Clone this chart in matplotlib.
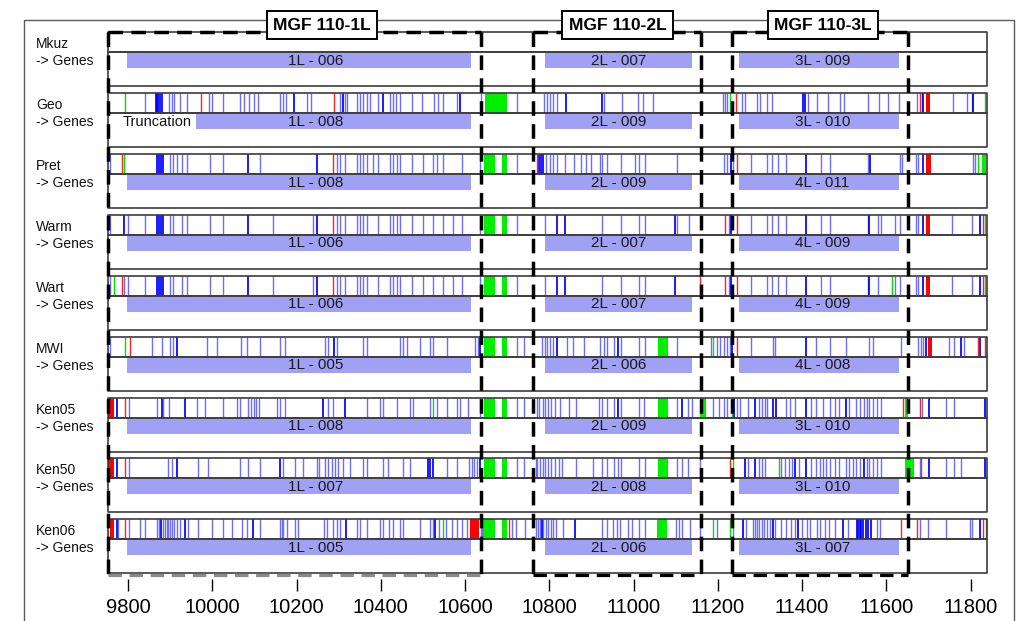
import matplotlib
matplotlib.use("Agg")
import matplotlib.pyplot as plt

plt.rcParams['font.family'] = ['Liberation Sans', 'DejaVu Sans']

# genome window and strains
track_start = 9752
track_end = 11840
strains = ["Mkuz", "Geo", "Pret", "Warm", "Wart", "MWI", "Ken05", "Ken50", "Ken06"]

gene_names = [
    ["1L - 006", "2L - 007", "3L - 009"],
    ["1L - 008", "2L - 009", "3L - 010"],
    ["1L - 008", "2L - 009", "4L - 011"],
    ["1L - 006", "2L - 007", "4L - 009"],
    ["1L - 006", "2L - 007", "4L - 009"],
    ["1L - 005", "2L - 006", "4L - 008"],
    ["1L - 008", "2L - 009", "3L - 010"],
    ["1L - 007", "2L - 008", "3L - 010"],
    ["1L - 005", "2L - 006", "3L - 007"],
]
gene_start = [9798, 10790, 11250]
gene_end = [10613, 11139, 11630]
geo_gene1_start = 9961
gene_label_x = [10246, 10965, 11448]

# MGF 110 regions (dashed boxes)
region_names = ["MGF 110-1L", "MGF 110-2L", "MGF 110-3L"]
region_start = [9752, 10761, 11233]
region_end = [10637, 11160, 11651]
region_label_x = [10260, 10962, 11450]

# variant positions per strain (Mkuz is the reference)
geo_blue = [9840, 9897, 9904, 9909, 9923, 9940, 9992, 9999, 10025, 10066, 10075, 10087, 10099, 10109,
            10161, 10168, 10175, 10225, 10234, 10303, 10315, 10320, 10344, 10351, 10358, 10367, 10374,
            10393, 10422, 10429, 10436, 10446, 10474, 10498, 10526, 10536, 10548, 10581, 10638, 10723,
            10787, 10795, 10802, 10809, 10818, 10930, 10973, 11011, 11022, 11046, 11212, 11217, 11222,
            11257, 11264, 11293, 11300, 11317, 11329, 11414, 11435, 11462, 11490, 11500, 11556, 11583,
            11604, 11630, 11673, 11685, 11758, 11791, 11803]
geo_dark = [9866, 9869, 9872, 9876, 9880, 10194, 10311, 10405, 10588, 10840, 10925, 11402, 11407, 11687, 11806]
geo_red = [9973, 10289, 11243, 11680]
geo_green = [9793, 11229, 11834]
geo_red_blocks = [(11694, 11704)]
geo_green_blocks = [(10647, 10700)]

pret_blue = [9757, 9900, 9907, 9916, 9928, 9940, 9995, 10025, 10113, 10296, 10303, 10315, 10344, 10351,
             10358, 10367, 10382, 10393, 10422, 10429, 10439, 10446, 10474, 10500, 10524, 10533, 10548,
             10593, 10636, 10723, 10793, 10801, 10809, 10819, 10838, 10859, 10875, 10888, 10898, 10921,
             10926, 10937, 10970, 11004, 11012, 11028, 11103, 11214, 11223, 11235, 11280, 11318, 11329,
             11343, 11362, 11446, 11467, 11556, 11632, 11637, 11670, 11675, 11806, 11810]
pret_dark = [9869, 9874, 9879, 9883, 10085, 10249, 10776, 10780, 10784, 11231, 11409, 11561, 11687]
pret_red = [9785, 10287, 10772, 11246]
pret_green = [9790, 11818]
pret_red_blocks = [(11695, 11706)]
pret_green_blocks = [(10645, 10671), (10688, 10700), (11827, 11836)]

warm_blue = [9757, 9800, 9840, 9900, 9907, 9928, 9940, 9995, 10025, 10144, 10239, 10296, 10303, 10315,
             10344, 10351, 10358, 10367, 10393, 10422, 10429, 10439, 10446, 10474, 10500, 10524, 10548,
             10571, 10593, 10636, 10724, 10789, 10926, 10970, 11012, 11028, 11104, 11131, 11227, 11280,
             11318, 11329, 11343, 11362, 11446, 11467, 11556, 11580, 11587, 11620, 11632, 11670, 11675,
             11756, 11803]
warm_dark = [9791, 9869, 9874, 9879, 9883, 10085, 10249, 10819, 10838, 11099, 11231, 11409, 11560, 11687, 11822]
warm_red = [10287, 11218, 11246, 11829]
warm_green = [11834]
warm_red_blocks = [(11695, 11704)]
warm_green_blocks = [(10645, 10671), (10688, 10700)]

wart_blue = [9757, 9791, 9800, 9840, 9900, 9907, 9928, 9940, 9995, 10025, 10144, 10239, 10296, 10303,
             10315, 10344, 10351, 10358, 10367, 10393, 10422, 10429, 10439, 10446, 10474, 10500, 10524,
             10548, 10571, 10593, 10636, 10724, 10789, 10926, 10970, 11012, 11028, 11227, 11280, 11318,
             11329, 11343, 11362, 11446, 11467, 11556, 11580, 11620, 11632, 11670, 11675, 11756, 11803]
wart_dark = [9869, 9874, 9879, 9883, 10085, 10249, 10819, 10838, 11099, 11231, 11409, 11560, 11687, 11822]
wart_red = [9786, 10287, 11159, 11218, 11246, 11829]
wart_green = [9767, 11613, 11834]
wart_red_blocks = [(11695, 11704)]
wart_green_blocks = [(10645, 10671), (10688, 10700)]

mwi_blue = [9757, 9857, 9880, 9900, 9907, 9988, 10011, 10068, 10082, 10113, 10161, 10173, 10268, 10275,
            10296, 10358, 10367, 10446, 10453, 10462, 10493, 10517, 10524, 10557, 10623, 10631, 10723,
            10739, 10783, 10789, 10794, 10801, 10809, 10842, 10857, 10882, 10921, 10929, 10937, 10954,
            10970, 11012, 11028, 11103, 11185, 11198, 11206, 11214, 11223, 11230, 11280, 11330, 11337,
            11433, 11467, 11504, 11560, 11568, 11636, 11676, 11682, 11687, 11748, 11760, 11785]
mwi_dark = [9916, 10289, 10636, 10818, 10962, 11233, 11409, 11694, 11777, 11823]
mwi_red = [9805, 11245, 11818, 11835]
mwi_green = [9793, 11189]
mwi_red_blocks = [(11698, 11708)]
mwi_green_blocks = [(10645, 10671), (10688, 10700), (11057, 11082)]

ken05_blue = [9802, 9869, 9883, 9897, 9964, 9983, 10025, 10059, 10066, 10085, 10092, 10099, 10104, 10111,
              10154, 10161, 10173, 10275, 10287, 10367, 10398, 10405, 10439, 10469, 10476, 10517, 10533,
              10557, 10581, 10588, 10607, 10636, 10723, 10739, 10772, 10776, 10784, 10789, 10797, 10805,
              10813, 10826, 10846, 10863, 10917, 10925, 10937, 10954, 10970, 11012, 11024, 11103, 11130,
              11140, 11188, 11202, 11214, 11221, 11246, 11252, 11272, 11297, 11305, 11312, 11318, 11362,
              11372, 11384, 11421, 11433, 11450, 11467, 11479, 11487, 11512, 11529, 11537, 11546, 11554,
              11560, 11568, 11578, 11587, 11684, 11743, 11760]
ken05_dark = [9774, 9880, 9935, 10263, 10315, 10962, 11114, 11239, 11289, 11330, 11339, 11409, 11504, 11702, 11835]
ken05_red = [9793, 11640, 11679]
ken05_green = [10524, 11233]
ken05_red_blocks = [(9752, 9767)]
ken05_green_blocks = [(10645, 10671), (10688, 10700), (11057, 11082), (11158, 11172), (11645, 11652)]

ken50_blue = [9802, 9895, 9904, 9966, 9990, 10066, 10085, 10113, 10168, 10196, 10215, 10249, 10253, 10268,
              10275, 10284, 10291, 10298, 10310, 10327, 10358, 10367, 10405, 10417, 10453, 10469, 10557,
              10581, 10609, 10617, 10621, 10628, 10723, 10739, 10768, 10772, 10778, 10784, 10791, 10797,
              10805, 10813, 10822, 10830, 10863, 10904, 10925, 10937, 10954, 10962, 10970, 11012, 11028,
              11103, 11114, 11130, 11159, 11272, 11297, 11305, 11312, 11351, 11359, 11368, 11376, 11392,
              11421, 11433, 11442, 11450, 11458, 11467, 11479, 11487, 11504, 11512, 11520, 11529, 11537,
              11554, 11560, 11568, 11578, 11587, 11679, 11743, 11760, 11777]
ken50_dark = [9774, 9916, 10161, 10512, 10518, 10524, 10636, 11264, 11289, 11384, 11409, 11546, 11702, 11835]
ken50_red = [9793, 11229, 11682]
ken50_green = [11235, 11345]
ken50_red_blocks = [(9752, 9767)]
ken50_green_blocks = [(10645, 10671), (10688, 10700), (11057, 11082), (11645, 11665)]

ken06_blue = [9777, 9803, 9828, 9840, 9868, 9874, 9882, 9888, 9892, 9896, 9900, 9904, 9909, 9916, 9923,
              9943, 9967, 9999, 10026, 10046, 10070, 10082, 10113, 10161, 10165, 10169, 10177, 10196, 10204,
              10265, 10272, 10287, 10295, 10303, 10343, 10351, 10367, 10398, 10406, 10420, 10428, 10446,
              10453, 10493, 10517, 10525, 10539, 10556, 10568, 10580, 10592, 10604, 10637, 10640, 10711,
              10722, 10742, 10768, 10774, 10778, 10786, 10792, 10798, 10803, 10809, 10816, 10832, 10924,
              10936, 10952, 10960, 10968, 10988, 10996, 11014, 11027, 11101, 11108, 11114, 11133, 11158,
              11197, 11237, 11268, 11283, 11288, 11292, 11298, 11304, 11309, 11316, 11324, 11335, 11351,
              11363, 11375, 11383, 11399, 11411, 11419, 11435, 11443, 11454, 11465, 11478, 11510, 11577,
              11585, 11680, 11700, 11743, 11799, 11804]
ken06_dark = [9773, 9878, 9935, 10097, 10317, 10529, 10782, 10861, 11261, 11330, 11391, 11498, 11530, 11533,
              11537, 11541, 11545, 11552, 11557, 11563, 11822]
ken06_red = [9793, 10705, 11634, 11673, 11830]
ken06_green = [10547, 11188, 11230, 11836]
ken06_red_blocks = [(9756, 9767), (10612, 10632)]
ken06_green_blocks = [(10643, 10671), (10687, 10699), (11055, 11080)]

blue_lines = [[], geo_blue, pret_blue, warm_blue, wart_blue, mwi_blue, ken05_blue, ken50_blue, ken06_blue]
dark_lines = [[], geo_dark, pret_dark, warm_dark, wart_dark, mwi_dark, ken05_dark, ken50_dark, ken06_dark]
red_lines = [[], geo_red, pret_red, warm_red, wart_red, mwi_red, ken05_red, ken50_red, ken06_red]
green_lines = [[], geo_green, pret_green, warm_green, wart_green, mwi_green, ken05_green, ken50_green, ken06_green]
red_blocks = [[], geo_red_blocks, pret_red_blocks, warm_red_blocks, wart_red_blocks, mwi_red_blocks,
              ken05_red_blocks, ken50_red_blocks, ken06_red_blocks]
green_blocks = [[], geo_green_blocks, pret_green_blocks, warm_green_blocks, wart_green_blocks,
                mwi_green_blocks, ken05_green_blocks, ken50_green_blocks, ken06_green_blocks]

x_ticks = [9800, 10000, 10200, 10400, 10600, 10800, 11000, 11200, 11400, 11600, 11800]

# layout (vertical units = pixels from top)
top0 = 32.4
pitch = 60.86
var_h = 20
gene_h = 34
xlim = (9496, 11927)
label_x = 9582

fig = plt.figure(figsize=(10.24, 6.21), dpi=100)
ax = fig.add_axes([0, 0, 1, 1])
ax.set_xlim(*xlim)
ax.set_ylim(621, 0)
ax.axis("off")

# outer frame
ax.plot([0.0234, 0.0234, 0.990, 0.990], [0.0, 0.968, 0.968, 0.0], transform=ax.transAxes,
        color="#5a5a5a", lw=1.0, clip_on=False)

track_w = track_end - track_start
for i, name in enumerate(strains):
    y0 = top0 + pitch * i
    # variant track
    ax.broken_barh([(track_start, track_w)], (y0, var_h), facecolor="white", edgecolor="none", zorder=1)
    ax.broken_barh([(s, e - s) for s, e in green_blocks[i]], (y0, var_h), facecolor="#00ee00",
                   edgecolor="none", zorder=2)
    ax.broken_barh([(s, e - s) for s, e in red_blocks[i]], (y0, var_h), facecolor="#ff0000",
                   edgecolor="none", zorder=2)
    ax.vlines(blue_lines[i], y0, y0 + var_h, color="#6c6cff", lw=1.0, zorder=3)
    ax.vlines(dark_lines[i], y0, y0 + var_h, color="#0000ff", lw=1.25, zorder=3)
    ax.vlines(red_lines[i], y0, y0 + var_h, color="#ff2020", lw=1.0, zorder=3)
    ax.vlines(green_lines[i], y0, y0 + var_h, color="#00dd00", lw=1.0, zorder=3)
    ax.broken_barh([(track_start, track_w)], (y0, var_h), facecolor="none", edgecolor="#3c3c3c",
                   lw=1.2, zorder=4)
    # gene track
    ax.broken_barh([(track_start, track_w)], (y0 + var_h, gene_h), facecolor="none",
                   edgecolor="#3c3c3c", lw=1.2, zorder=4)
    for j in range(3):
        gs = gene_start[j]
        if i == 1 and j == 0:
            gs = geo_gene1_start
        ax.broken_barh([(gs, gene_end[j] - gs)], (y0 + var_h + 1, 15), facecolor="#a0a0f5",
                       edgecolor="none", zorder=2)
        ax.text(gene_label_x[j], y0 + var_h + 8.5, gene_names[i][j], ha="center", va="center",
                fontsize=11, color="#1a1a1a", zorder=5)
    ax.text(label_x, y0 + 12, name, ha="left", va="center", fontsize=10, color="#111111")
    ax.text(label_x, y0 + 29, "-> Genes", ha="left", va="center", fontsize=10, color="#111111")

ax.text(9786, top0 + pitch + 29, "Truncation", ha="left", va="center", fontsize=10.5, color="#111111", zorder=5)

# dashed MGF boxes
dash = (0, (4.2, 2.4))
box_top = 32
box_bottom = 575
for k in range(3):
    x0, x1 = region_start[k], region_end[k]
    ax.plot([x0, x1], [box_top, box_top], color="black", lw=2.5, linestyle=dash, zorder=6)
    ax.plot([x0, x0], [box_top, box_bottom], color="black", lw=2.5, linestyle=dash, zorder=6)
    ax.plot([x1, x1], [box_top, box_bottom], color="black", lw=2.5, linestyle=dash, zorder=6)
    bottom_col = "#8a8a8a" if k == 0 else "black"
    ax.plot([x0, x1], [box_bottom, box_bottom], color=bottom_col, lw=2.3, linestyle=dash, zorder=6)
    ax.text(region_label_x[k], 25, region_names[k], ha="center", va="center", fontsize=12.5,
            fontweight="bold", zorder=7,
            bbox=dict(boxstyle="square,pad=0.37", facecolor="white", edgecolor="black", lw=1.4))

# x axis ticks
ax2 = fig.add_axes([0, 1 - 579 / 621, 1, 0.001])
ax2.set_xlim(*xlim)
ax2.patch.set_visible(False)
for sp in ax2.spines.values():
    sp.set_visible(False)
ax2.set_yticks([])
ax2.set_xticks(x_ticks)
ax2.set_xticklabels([str(t) for t in x_ticks])
ax2.tick_params(axis="x", direction="out", length=8.6, width=1.0, pad=5, labelsize=14.5)

fig.savefig("out.png", dpi=100)
